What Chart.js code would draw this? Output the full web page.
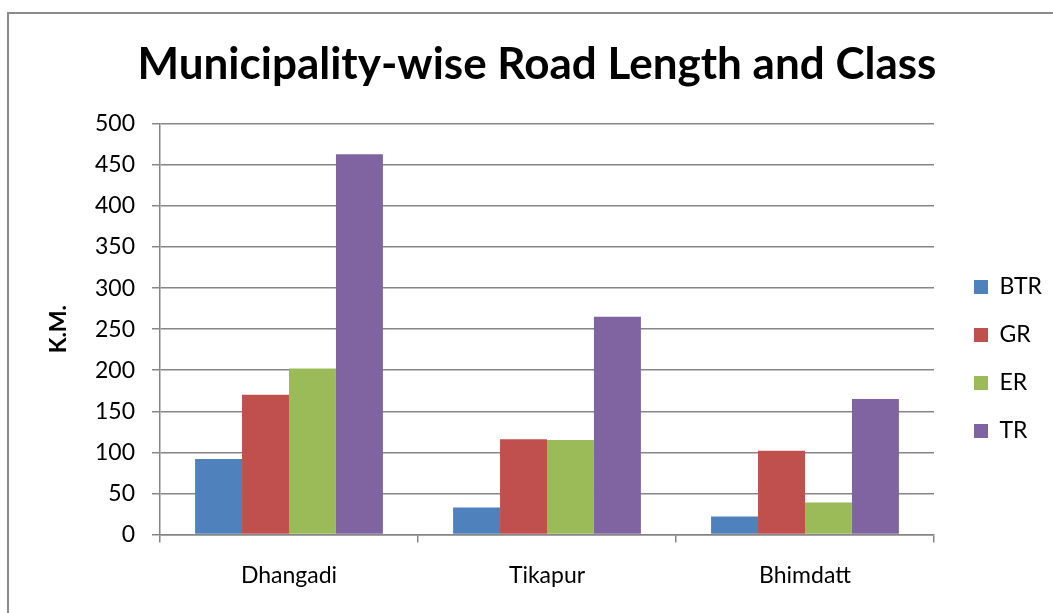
<!DOCTYPE html>
<html>
<head>
<meta charset="utf-8">
<title>Municipality-wise Road Length and Class</title>
<script src="https://cdn.jsdelivr.net/npm/chart.js@4.4.1/dist/chart.umd.min.js"></script>
<style>
  html, body { margin: 0; padding: 0; background: #fff; overflow: hidden; }
  #wrap { position: relative; width: 1053px; height: 613px; }
  /* grey frame of the chart object, only top and left edges show */
  #frame {
    position: absolute; left: 7px; top: 12px; width: 1100px; height: 700px;
    border-top: 2px solid #8c8c8c; border-left: 2px solid #8c8c8c;
  }
  #chart-road { position: absolute; left: 0; top: 0; }
</style>
</head>
<body>
<div id="wrap">
  <div id="frame"></div>
  <canvas id="chart-road" width="1053" height="613"></canvas>
</div>
<script>
  // data
  const municipalities = ['Dhangadi', 'Tikapur', 'Bhimdatt'];
  const btr = [92, 33, 22];
  const gr  = [170, 116, 102];
  const er  = [202, 115, 39];
  const tr  = [463, 265, 165];
  const yTicks = [0, 50, 100, 150, 200, 250, 300, 350, 400, 450, 500];

  const FONT = 'Lato';
  const GRID = '#868686';

  let data_road = {
    labels: municipalities,
    datasets: [
      { label: 'BTR', data: btr, backgroundColor: '#4F81BD' },
      { label: 'GR',  data: gr,  backgroundColor: '#C0504D' },
      { label: 'ER',  data: er,  backgroundColor: '#9BBB59' },
      { label: 'TR',  data: tr,  backgroundColor: '#8064A2' }
    ]
  };

  let ctx = document.getElementById('chart-road').getContext('2d');

  let barChart = new Chart(ctx, {
    type: 'bar',
    data: data_road,
    options: {
      responsive: false,
      animation: false,
      devicePixelRatio: 1,
      categoryPercentage: 0.728,
      barPercentage: 1,
      layout: { padding: { top: 0, right: 1, bottom: 0, left: 22 } },
      plugins: {
        tooltip: { enabled: false },
        title: {
          display: true,
          text: 'Municipality-wise Road Length and Class',
          color: '#000',
          font: { family: FONT, size: 44, weight: 'bold' },
          padding: { top: 38, bottom: 33 }
        },
        legend: {
          position: 'right',
          // empty title only pushes the legend rows down
          title: { display: true, text: '', font: { size: 10 }, padding: { top: 93, bottom: 0 } },
          labels: {
            color: '#000',
            font: { family: FONT, size: 23 },
            boxWidth: 14,
            boxHeight: 14,
            padding: 25
          }
        }
      },
      scales: {
        x: {
          grid: {
            display: true,
            drawOnChartArea: false,
            offset: true,
            color: GRID,
            lineWidth: 1.5,
            tickLength: 8
          },
          border: { display: true, color: GRID, width: 1.5 },
          ticks: { color: '#000', font: { family: FONT, size: 23 }, padding: 19 },
          afterFit: (scale) => { scale.height = 78.5; }
        },
        y: {
          min: 0,
          max: 500,
          afterBuildTicks: (scale) => { scale.ticks = yTicks.map(v => ({ value: v })); },
          grid: { color: GRID, lineWidth: 1.5, tickLength: 8 },
          border: { display: true, color: GRID, width: 1.5 },
          ticks: { color: '#000', font: { family: FONT, size: 23 }, padding: 17 },
          title: {
            display: true,
            text: 'K.M.',
            color: '#000',
            font: { family: FONT, size: 23, weight: 'bold' },
            padding: { top: 23, bottom: 0 }
          },
          afterFit: (scale) => { scale.width = 138; }
        },
        // empty spacer between the plot and the legend
        gap: {
          type: 'linear',
          position: 'right',
          display: true,
          grid: { display: false },
          border: { display: false },
          ticks: { display: false },
          afterFit: (scale) => { scale.width = 15; }
        }
      }
    }
  });
</script>
</body>
</html>
